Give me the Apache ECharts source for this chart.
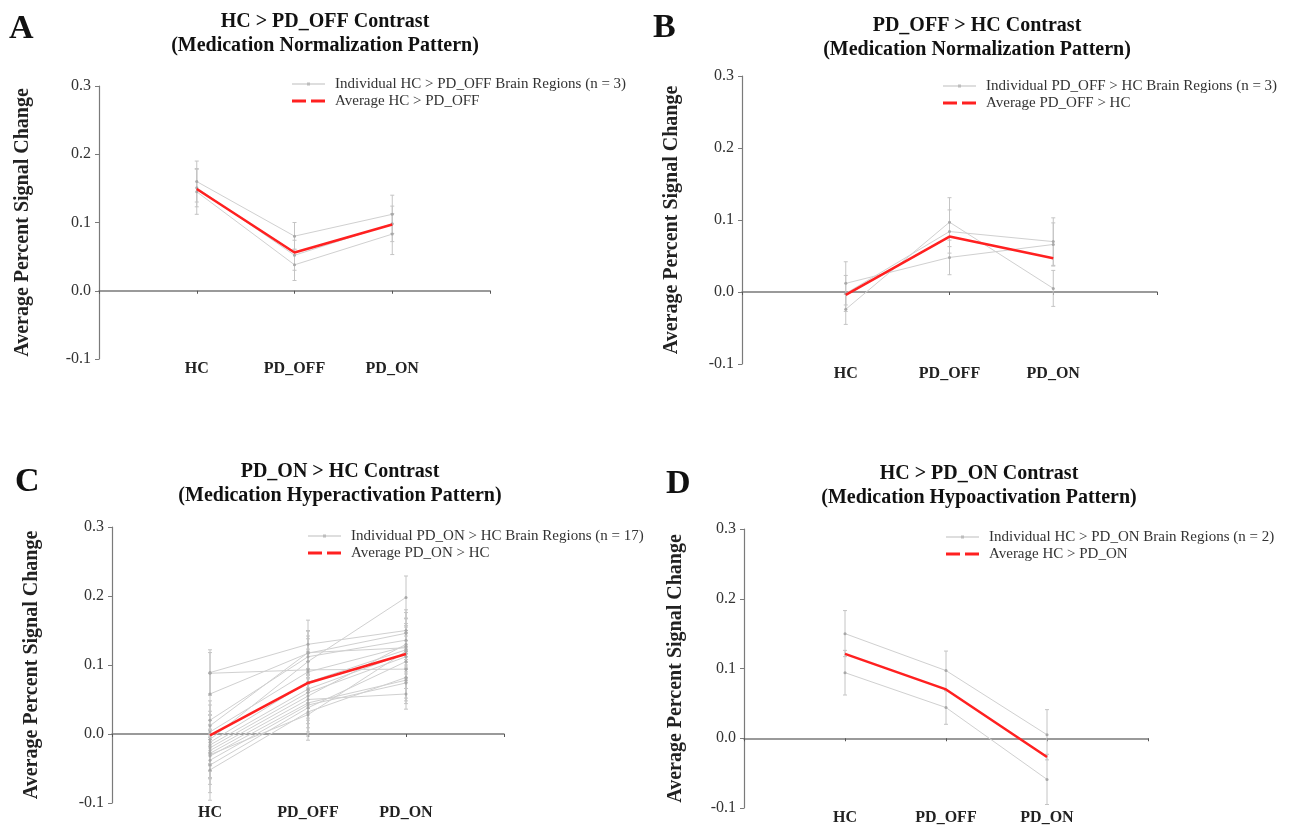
<!DOCTYPE html>
<html><head><meta charset="utf-8">
<script src="https://cdn.jsdelivr.net/npm/echarts@6/dist/echarts.min.js"></script>
<style>html,body{margin:0;padding:0;background:#fff}#c{width:1305px;height:827px}</style>
</head><body><div id="c"></div>
<script>
// ---------------- DATA ----------------
const categories = ['HC', 'PD_OFF', 'PD_ON'];
const yTickMin = -0.1, yTickMax = 0.3, yTickStep = 0.1;

// Panel A: HC > PD_OFF
const aIndividual = [[0.160, 0.080, 0.112], [0.145, 0.038, 0.083], [0.151, 0.052, 0.098]];
const aError      = [[0.030, 0.020, 0.028], [0.033, 0.023, 0.030], [0.028, 0.022, 0.026]];
const aAverage    = [0.149, 0.056, 0.097];

// Panel B: PD_OFF > HC
const bIndividual = [[0.012, 0.048, 0.066], [-0.024, 0.097, 0.005], [-0.002, 0.084, 0.070]];
const bError      = [[0.030, 0.024, 0.030], [0.021, 0.034, 0.025], [0.025, 0.030, 0.033]];
const bAverage    = [-0.004, 0.077, 0.047];

// Panel C: PD_ON > HC (17 regions)
const cIndividual = [
  [0.089, 0.130, 0.150], [0.088, 0.093, 0.094], [0.058, 0.117, 0.146], [0.020, 0.112, 0.136],
  [-0.008, 0.105, 0.198], [0.003, 0.090, 0.127], [-0.012, 0.075, 0.122], [-0.016, 0.065, 0.117],
  [-0.020, 0.060, 0.112], [-0.024, 0.055, 0.130], [-0.028, 0.050, 0.058], [-0.032, 0.045, 0.078],
  [-0.038, 0.042, 0.074], [-0.045, 0.038, 0.105], [-0.052, 0.032, 0.082], [-0.030, 0.028, 0.120],
  [0.012, 0.118, 0.125]
];
const cError = [
  [0.033, 0.035, 0.030], [0.030, 0.030, 0.028], [0.030, 0.032, 0.030], [0.028, 0.030, 0.032],
  [0.035, 0.033, 0.031], [0.030, 0.030, 0.030], [0.032, 0.030, 0.028], [0.030, 0.028, 0.030],
  [0.033, 0.030, 0.030], [0.030, 0.032, 0.030], [0.035, 0.030, 0.022], [0.032, 0.030, 0.030],
  [0.035, 0.033, 0.030], [0.040, 0.035, 0.030], [0.044, 0.035, 0.030], [0.035, 0.037, 0.030],
  [0.030, 0.032, 0.030]
];
const cAverage = [-0.002, 0.074, 0.116];

// Panel D: HC > PD_ON
const dIndividual = [[0.150, 0.097, 0.005], [0.094, 0.044, -0.059]];
const dError      = [[0.033, 0.028, 0.036], [0.032, 0.024, 0.036]];
const dAverage    = [0.121, 0.070, -0.027];

const panelLetters = ['A', 'B', 'C', 'D'];
const panelTitles = [
  'HC > PD_OFF Contrast\n(Medication Normalization Pattern)',
  'PD_OFF > HC Contrast\n(Medication Normalization Pattern)',
  'PD_ON > HC Contrast\n(Medication Hyperactivation Pattern)',
  'HC > PD_ON Contrast\n(Medication Hypoactivation Pattern)'
];
const individualNames = [
  'Individual HC > PD_OFF Brain Regions (n = 3)',
  'Individual PD_OFF > HC Brain Regions (n = 3)',
  'Individual PD_ON > HC Brain Regions (n = 17)',
  'Individual HC > PD_ON Brain Regions (n = 2)'
];
const averageNames = ['Average HC > PD_OFF', 'Average PD_OFF > HC', 'Average PD_ON > HC', 'Average HC > PD_ON'];
const yAxisName = 'Average Percent Signal Change';

// ---------------- LAYOUT ----------------
const SERIF = '"Liberation Serif", "Times New Roman", serif';
const panels = [
  { ind: aIndividual, err: aError, avg: aAverage,
    grid: { left: 99, top: 86, width: 391, height: 273 }, nameGap: 66,
    letter: [9, 12], title: [325, 10], legend: { left: 287, top: 71 } },
  { ind: bIndividual, err: bError, avg: bAverage,
    grid: { left: 742, top: 76, width: 415, height: 288 }, nameGap: 60,
    letter: [653, 11], title: [977, 14], legend: { left: 938, top: 73 } },
  { ind: cIndividual, err: cError, avg: cAverage,
    grid: { left: 112, top: 527, width: 392, height: 276 }, nameGap: 70,
    letter: [15, 465], title: [340, 460], legend: { left: 303, top: 523 } },
  { ind: dIndividual, err: dError, avg: dAverage,
    grid: { left: 744, top: 529, width: 404, height: 279 }, nameGap: 58,
    letter: [666, 467], title: [979, 462], legend: { left: 941, top: 524 } }
];

const axisCats = [''].concat(categories, [' ']);
const ICON_IND = 'path://M0,4.5L33,4.5L33,5.5L0,5.5Z M15,3.5L18,3.5L18,6.5L15,6.5Z';
const ICON_AVG = 'path://M0,3.5L14,3.5L14,6.5L0,6.5Z M19,3.5L33,3.5L33,6.5L19,6.5Z';

const option = {
  backgroundColor: '#fff',
  animation: false,
  grid: [], xAxis: [], yAxis: [], series: [], legend: [], graphic: []
};

panels.forEach((p, k) => {
  option.grid.push(Object.assign({ containLabel: false }, p.grid));
  option.xAxis.push({
    type: 'category', gridIndex: k, data: axisCats, boundaryGap: false, position: 'bottom',
    axisLine: { show: false, onZero: false }, axisTick: { show: false },
    axisLabel: { margin: 2, fontFamily: SERIF, fontWeight: 'bold', fontSize: 16, color: '#222' },
    splitLine: { show: false }
  });
  option.xAxis.push({
    type: 'category', gridIndex: k, data: axisCats, boundaryGap: false, position: 'bottom',
    axisLine: { show: true, onZero: true, lineStyle: { color: '#7a7a7a', width: 1.5 } },
    axisTick: { show: true, length: 3, inside: false, lineStyle: { color: '#555' } },
    axisLabel: { show: false }, splitLine: { show: false }
  });
  option.yAxis.push({
    type: 'value', gridIndex: k, min: yTickMin, max: yTickMax, interval: yTickStep,
    name: yAxisName, nameLocation: 'middle', nameGap: p.nameGap,
    nameTextStyle: { fontFamily: SERIF, fontWeight: 'bold', fontSize: 20, color: '#222' },
    axisLine: { show: true, lineStyle: { color: '#7a7a7a', width: 1.2 } },
    axisTick: { show: true, length: 4, lineStyle: { color: '#7a7a7a' } },
    axisLabel: { margin: 8, fontFamily: SERIF, fontSize: 16, color: '#333',
      formatter: v => v.toFixed(1) },
    splitLine: { show: false }
  });
  const xi = k * 2, yi = k;
  const errData = [];
  p.ind.forEach((vals, i) => {
    vals.forEach((v, j) => {
      errData.push([categories[j], v - p.err[i][j], v + p.err[i][j]]);
    });
  });
  option.series.push({
    type: 'custom', xAxisIndex: xi, yAxisIndex: yi, z: 1, silent: true,
    encode: { x: 0, y: [1, 2] },
    data: errData,
    renderItem: (params, api) => {
      const x = api.value(0);
      const lo = api.coord([x, api.value(1)]);
      const hi = api.coord([x, api.value(2)]);
      const st = { stroke: '#c4c4c4', lineWidth: 1 };
      const w = 2;
      return { type: 'group', children: [
        { type: 'line', shape: { x1: lo[0], y1: lo[1], x2: hi[0], y2: hi[1] }, style: st },
        { type: 'line', shape: { x1: hi[0] - w, y1: hi[1], x2: hi[0] + w, y2: hi[1] }, style: st },
        { type: 'line', shape: { x1: lo[0] - w, y1: lo[1], x2: lo[0] + w, y2: lo[1] }, style: st }
      ]};
    }
  });
  p.ind.forEach((vals) => {
    option.series.push({
      type: 'line', name: individualNames[k], xAxisIndex: xi, yAxisIndex: yi, z: 2,
      data: categories.map((c, j) => [c, vals[j]]),
      symbol: 'circle', symbolSize: 3, showSymbol: true,
      lineStyle: { color: '#d0d0d0', width: 1 },
      itemStyle: { color: '#a8a8a8' },
      emphasis: { disabled: true }
    });
  });
  option.series.push({
    type: 'line', name: averageNames[k], xAxisIndex: xi, yAxisIndex: yi, z: 3,
    data: categories.map((c, j) => [c, p.avg[j]]),
    symbol: 'none', lineStyle: { color: '#ff2020', width: 2.5 }, itemStyle: { color: '#ff2020' },
    emphasis: { disabled: true }
  });
  option.legend.push({
    left: p.legend.left, top: p.legend.top, orient: 'vertical', itemGap: 1,
    itemWidth: 33, itemHeight: 10, selectedMode: false,
    textStyle: { fontFamily: SERIF, fontSize: 15, color: '#333', lineHeight: 16, padding: [0, 0, 0, 5] },
    data: [
      { name: individualNames[k], icon: ICON_IND, itemStyle: { color: '#bdbdbd' } },
      { name: averageNames[k], icon: ICON_AVG, itemStyle: { color: '#ff2020' } }
    ]
  });
  option.graphic.push({
    type: 'text', left: p.letter[0], top: p.letter[1],
    style: { text: panelLetters[k], font: 'bold 34px ' + SERIF, fill: '#111' }
  });
  option.graphic.push({
    type: 'text', x: p.title[0], y: p.title[1],
    style: { text: panelTitles[k], font: 'bold 20px ' + SERIF, fill: '#111', textAlign: 'center',
      textVerticalAlign: 'top', lineHeight: 24 }
  });
});

const chart = echarts.init(document.getElementById('c'), null, { renderer: 'canvas' });
chart.setOption(option);
</script></body></html>
